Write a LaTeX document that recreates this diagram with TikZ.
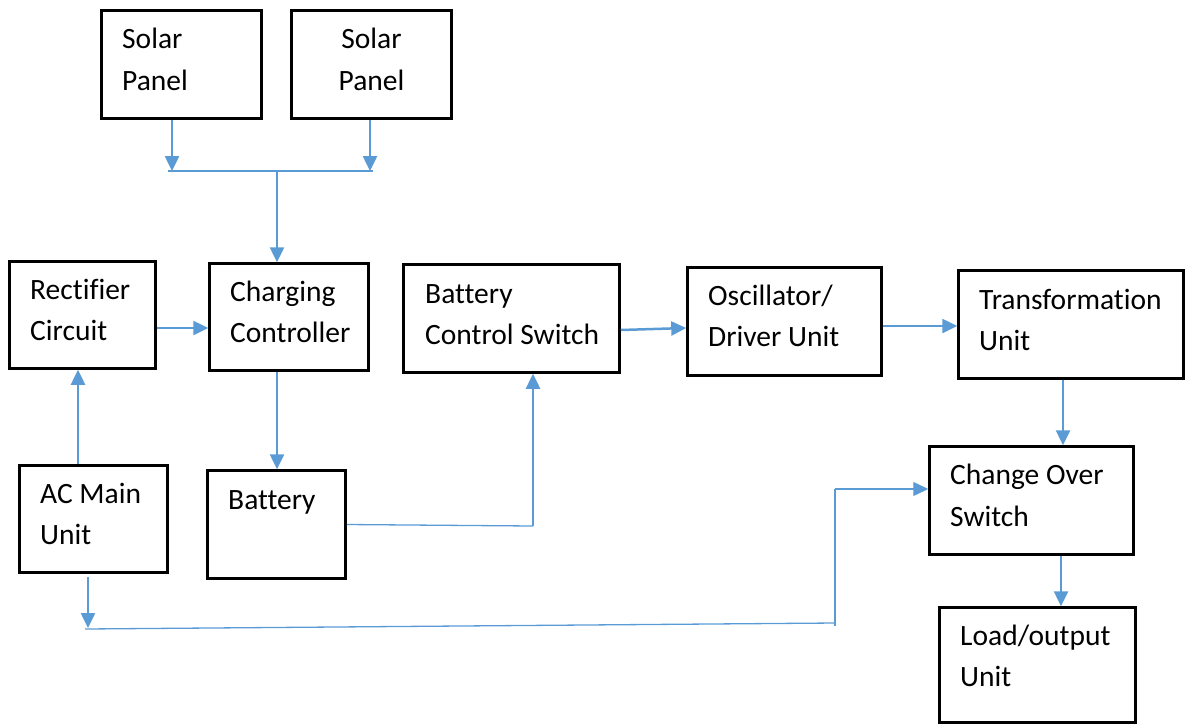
\documentclass[tikz,border=0pt]{standalone}
\usepackage{fontspec}
\setmainfont{Carlito}[Ligatures=CommonOff]
\usetikzlibrary{arrows.meta}
\definecolor{lineblue}{HTML}{5B9BD5}
\tikzset{
  blk/.style={draw=black, line width=2.5pt, inner sep=0pt},
  lbl/.style={inner sep=0pt, font=\fontsize{29.5}{41}\selectfont},
  arr/.style={draw=lineblue, line width=2.5pt, -{Triangle[length=15pt,width=14pt]}},
  thinarr/.style={draw=lineblue, line width=1.3pt, -{Triangle[length=15pt,width=14pt]}},
  thinln/.style={draw=lineblue, line width=1.3pt},
  busln/.style={draw=lineblue, line width=1.7pt},
}
\newcommand\txt[4]{\node[lbl,anchor=base west] (#1) at (#2,#3) {#4};}
\begin{document}
\begin{tikzpicture}[x=1pt,y=-1pt]
\useasboundingbox (0,0) rectangle (1188,726);
% boxes
\node[blk, minimum width=160pt, minimum height=108pt] (sp1) at (181.5,64.5) {};
\node[blk, minimum width=160pt, minimum height=108pt] (sp2) at (371.5,64.5) {};
\node[blk, minimum width=146pt, minimum height=107pt] (rect) at (82.5,315) {};
\node[blk, minimum width=159pt, minimum height=107pt] (charge) at (289,317) {};
\node[blk, minimum width=216pt, minimum height=108pt] (bcs) at (511.5,318.5) {};
\node[blk, minimum width=194pt, minimum height=108pt] (osc) at (784.5,321.5) {};
\node[blk, minimum width=225pt, minimum height=108pt] (trans) at (1071,324.5) {};
\node[blk, minimum width=148pt, minimum height=107pt] (ac) at (93.5,519) {};
\node[blk, minimum width=138pt, minimum height=108pt] (batt) at (276.5,524.5) {};
\node[blk, minimum width=204pt, minimum height=108pt] (cos) at (1031.5,500.5) {};
\node[blk, minimum width=196pt, minimum height=115pt] (load) at (1037.5,665) {};
% texts
\txt{t1a}{122}{48}{Solar}
\txt{t1b}{122}{90}{Panel}
\node[lbl,anchor=base] (t2a) at (371.5,48) {Solar};
\node[lbl,anchor=base] (t2b) at (371.5,90) {Panel};
\txt{t3a}{30}{299}{Rectifier}
\txt{t3b}{30}{340}{Circuit}
\txt{t4a}{230}{301}{Charging}
\txt{t4b}{230}{342}{Controller}
\txt{t5a}{425}{303}{Battery}
\txt{t5b}{425}{344}{Control Switch}
\txt{t6a}{708}{305}{Oscillator/}
\txt{t6b}{708}{346}{Driver Unit}
\txt{t7a}{979}{309}{Transformation}
\txt{t7b}{979}{350}{Unit}
\txt{t8a}{40}{503}{AC Main}
\txt{t8b}{40}{544}{Unit}
\txt{t9a}{228}{509}{Battery}
\txt{t10a}{950}{484}{Change Over}
\txt{t10b}{950}{526}{Switch}
\txt{t11a}{960}{645}{Load/output}
\txt{t11b}{960}{686}{Unit}
% junction coordinates
\coordinate (busL) at (168,171);
\coordinate (busR) at (373,171);
\coordinate (j1) at (172,171);
\coordinate (j2) at (370,171);
\coordinate (busM) at (277,171);
\coordinate (bb) at (533,526);
\coordinate (acb) at (88,628);
\coordinate (lnL) at (85,629);
\coordinate (lnR) at (835,623);
\coordinate (lnT) at (835,489);
% connectors
\draw[arr] (sp1.south -| j1) -- (j1);
\draw[arr] (sp2.south -| j2) -- (j2);
\draw[busln] (busL) -- (busR);
\draw[arr] (busM) -- (busM |- charge.north);
\draw[arr] ([yshift=-13pt]rect.east) -- ([yshift=-11pt]charge.west);
\draw[arr] ([xshift=-15.5pt]ac.north) -- ([xshift=-4.5pt]rect.south);
\draw[arr] ([xshift=-12pt]charge.south) -- ([xshift=0.5pt]batt.north);
\draw[thinln] (batt.east) -- (bb);
\draw[arr] (bb) -- (bb |- bcs.south);
\draw[arr] ([yshift=-11.5pt]bcs.east) -- ([yshift=-6.5pt]osc.west);
\draw[arr] ([yshift=-4.5pt]osc.east) -- ([yshift=-1.5pt]trans.west);
\draw[arr] ([xshift=-8pt]trans.south) -- ([xshift=31.5pt]cos.north);
\draw[arr] ([xshift=29.5pt]cos.south) -- ([xshift=23.5pt]load.north);
\draw[arr] ([yshift=-3pt]ac.south -| acb) -- (acb);
\draw[thinln] (lnL) -- (lnR);
\draw[thinln] ([yshift=-3pt]lnR) -- (lnT);
\draw[thinarr] (lnT) -- (lnT -| cos.west);
\end{tikzpicture}
\end{document}
